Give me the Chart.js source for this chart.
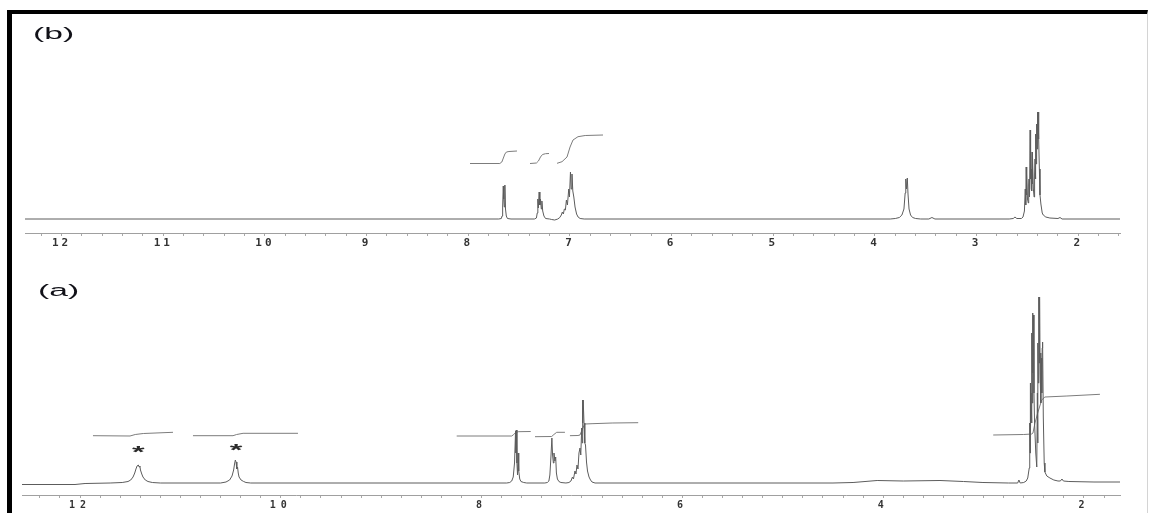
<!DOCTYPE html>
<html>
<head>
<meta charset="utf-8">
<script src="https://cdn.jsdelivr.net/npm/chart.js@4.4.1/dist/chart.umd.min.js"></script>
<style>
  html, body { margin: 0; padding: 0; background: #fff; }
  #page { position: relative; width: 1149px; height: 513px; overflow: hidden; background: #fff; }
  canvas { position: absolute; left: 0; }
  #cb { top: 0; }
  #ca { top: 256px; }
  #frame {
    position: absolute; left: 7px; top: 10px; right: 1px; bottom: -10px;
    border-left: 5px solid #000; border-top: 4px solid #000; border-right: 1px solid #d4d4d4;
    pointer-events: none;
  }
</style>
</head>
<body>
<div id="page">
  <canvas id="cb" width="1149" height="256"></canvas>
  <canvas id="ca" width="1149" height="257"></canvas>
  <div id="frame"></div>
</div>
<script>
// 1H NMR spectra: chemical shift (ppm) against signal intensity (baseline = 0).

// ---- panel (b) ----
const labelsB = [12, 11, 10, 9, 8, 7, 6, 5, 4, 3, 2];
const spectrumB = [
  [12.36, 0], [7.70, 0], [7.675, 0.5], [7.668, 3], [7.662, 12], [7.656, 33], [7.651, 20], [7.646, 12],
  [7.640, 34], [7.634, 10], [7.626, 3], [7.615, 0.5], [7.58, 0],
  [7.35, 0], [7.330, 1], [7.322, 6], [7.316, 20], [7.311, 11], [7.303, 27], [7.296, 14], [7.290, 20],
  [7.282, 10], [7.276, 18], [7.268, 8], [7.256, 3], [7.24, 0.5], [7.20, 0],
  [7.18, -0.5], [7.15, -1], [7.12, 0], [7.10, 1.5], [7.085, 4], [7.075, 7], [7.065, 5], [7.055, 10],
  [7.045, 9], [7.035, 19], [7.025, 14], [7.012, 30], [7.005, 22], [6.995, 47], [6.988, 30], [6.980, 45],
  [6.972, 28], [6.962, 22], [6.950, 12], [6.935, 5], [6.92, 2], [6.90, 0.5], [6.86, 0],
  [3.85, 0], [3.80, 0.5], [3.76, 1.5], [3.735, 4], [3.715, 10], [3.703, 26], [3.697, 40], [3.690, 30],
  [3.682, 41], [3.675, 25], [3.665, 10], [3.650, 4], [3.63, 1.5], [3.60, 0.5], [3.55, 0],
  [3.47, 0], [3.44, 1.5], [3.41, 0],
  [2.68, 0], [2.64, 0.5], [2.623, 2], [2.605, 0.5], [2.56, 0.5], [2.544, 2], [2.530, 8], [2.522, 30],
  [2.517, 14], [2.513, 52], [2.509, 24], [2.506, 45], [2.500, 20], [2.492, 16], [2.488, 34], [2.485, 40],
  [2.480, 22], [2.474, 89], [2.471, 40], [2.468, 70], [2.463, 30], [2.460, 50], [2.457, 28], [2.455, 67],
  [2.452, 35], [2.449, 62], [2.442, 30], [2.435, 22], [2.430, 45], [2.426, 60], [2.422, 40], [2.418, 85],
  [2.414, 55], [2.410, 95], [2.406, 70], [2.402, 107], [2.399, 80], [2.396, 107], [2.390, 80],
  [2.383, 50], [2.377, 24], [2.368, 15], [2.355, 6], [2.345, 4], [2.32, 2],
  [2.28, 1], [2.20, 0.5], [2.18, 1.5], [2.16, 0], [1.59, 0]
];
const integralB1 = [[7.983, 55.5], [7.69, 55.5], [7.67, 57], [7.655, 61], [7.64, 65], [7.625, 67], [7.60, 67.5], [7.521, 68]];
const integralB2 = [[7.393, 55.5], [7.33, 56], [7.31, 58], [7.29, 62], [7.27, 64.5], [7.24, 65.3], [7.206, 65.5]];
const integralB3 = [[7.127, 55.7], [7.078, 57.3], [7.029, 62], [6.999, 72], [6.97, 79], [6.921, 82.3], [6.85, 83.5], [6.675, 84]];

// ---- panel (a) ----
const labelsA = [12, 10, 8, 6, 4, 2];
const spectrumA = [
  [12.578, -1.5], [12.05, -1.5], [11.95, -0.5], [11.70, 0], [11.58, 0.5], [11.522, 1.5], [11.495, 3],
  [11.472, 6], [11.455, 10], [11.443, 14], [11.432, 17], [11.420, 18], [11.410, 16], [11.404, 17],
  [11.398, 13], [11.385, 9], [11.373, 6], [11.35, 3], [11.323, 1.5], [11.28, 0.5], [11.20, 0],
  [10.60, 0], [10.546, 1], [10.51, 3], [10.486, 7], [10.470, 13], [10.461, 19], [10.453, 23], [10.446, 21],
  [10.438, 14], [10.431, 16], [10.424, 10], [10.416, 6], [10.396, 3], [10.37, 1.5], [10.347, 0.5], [10.30, 0],
  [7.75, 0], [7.72, 0.5], [7.700, 2], [7.685, 6], [7.672, 20], [7.662, 52], [7.658, 30], [7.655, 53], [7.648, 20],
  [7.642, 8], [7.636, 30], [7.630, 12], [7.620, 4], [7.608, 1.5], [7.58, 0.5], [7.55, 0],
  [7.37, 0], [7.345, 0.5], [7.330, 2], [7.320, 8], [7.310, 25], [7.300, 45], [7.293, 28], [7.285, 20],
  [7.279, 30], [7.270, 22], [7.262, 26], [7.255, 10], [7.245, 4], [7.230, 1.5], [7.21, 0.5], [7.16, 0],
  [7.13, 0.5], [7.110, 2], [7.095, 6], [7.085, 4], [7.070, 12], [7.060, 9], [7.050, 18], [7.040, 14],
  [7.030, 30], [7.020, 35], [7.012, 28], [7.003, 55], [6.998, 40], [6.995, 83], [6.991, 60], [6.988, 83],
  [6.980, 60], [6.972, 40], [6.965, 38], [6.955, 21], [6.945, 12], [6.930, 6], [6.915, 3], [6.90, 1], [6.87, 0],
  [4.50, 0], [4.30, 0.5], [4.06, 2.5], [3.80, 2], [3.434, 2.5], [3.20, 1.5], [3.006, 0.5], [2.75, 0],
  [2.66, 0], [2.648, 3], [2.635, 0], [2.60, 0.5], [2.575, 2], [2.560, 5], [2.545, 15], [2.540, 60],
  [2.537, 30], [2.535, 100], [2.531, 50], [2.527, 90], [2.522, 60], [2.518, 150], [2.515, 80], [2.512, 170],
  [2.508, 110], [2.503, 168], [2.498, 90], [2.492, 60], [2.480, 30], [2.470, 16], [2.464, 90], [2.461, 40],
  [2.458, 140], [2.455, 100], [2.450, 186], [2.447, 120], [2.442, 186], [2.437, 110], [2.432, 130],
  [2.428, 80], [2.424, 125], [2.420, 90], [2.416, 135], [2.412, 141], [2.405, 66], [2.396, 20], [2.389, 11],
  [2.370, 7], [2.339, 5], [2.30, 3], [2.259, 2], [2.235, 2], [2.219, 4], [2.205, 2], [2.15, 1.5],
  [1.90, 1], [1.641, 1]
];
const integralA1 = [[11.871, 47.3], [11.502, 47], [11.45, 48.5], [11.37, 49.5], [11.074, 50.7]];
const integralA2 = [[10.875, 47.3], [10.476, 47.3], [10.44, 48.5], [10.376, 49.7], [9.829, 49.7]];
const integralA3 = [[8.248, 47], [7.700, 47], [7.68, 48.5], [7.66, 50.5], [7.635, 51.3], [7.511, 51.5]];
const integralA4 = [[7.468, 46.3], [7.302, 46.5], [7.28, 48.5], [7.252, 50.7], [7.170, 50.7]];
const integralA5 = [[7.120, 47.3], [7.040, 47.5], [7.020, 48], [7.000, 53], [6.980, 57.5], [6.970, 59], [6.90, 59.3], [6.70, 60], [6.440, 60.3]];
const integralA6 = [[2.904, 48], [2.60, 48.5], [2.521, 49], [2.508, 50], [2.488, 60], [2.458, 71], [2.421, 83], [2.389, 86], [2.17, 87], [1.841, 88.7]];
// asterisks over the two exchangeable-proton signals: [ppm, height]
const starMarks = [[11.42, 33.3], [10.446, 35.8]];

// Minor ticks every 0.2 ppm inside a range
function minorTicks(lo, hi) {
  const out = [];
  for (let k = Math.ceil(lo * 5); k <= Math.floor(hi * 5); k++) out.push(k / 5);
  return out;
}

const panelPlugin = {
  id: 'panelTag',
  beforeDraw(chart, args, opts) {
    chart.ctx.letterSpacing = opts.tickSpacing || '0px';
  },
  afterDraw(chart, args, opts) {
    const ctx = chart.ctx;
    ctx.save();
    ctx.letterSpacing = '0px';
    ctx.fillStyle = '#111118';
    ctx.font = '16px "Liberation Sans", Arial, sans-serif';
    ctx.textBaseline = 'alphabetic';
    ctx.textAlign = 'left';
    ctx.translate(opts.x, opts.y);
    ctx.scale(2.1, 1);
    ctx.fillText(opts.text, 0, 0);
    ctx.restore();

    const xs = chart.scales.x, ys = chart.scales.y;
    (opts.marks || []).forEach(([p, h]) => {
      ctx.save();
      ctx.letterSpacing = '0px';
      ctx.fillStyle = '#2a2a2a';
      ctx.font = 'bold 18px "Liberation Sans", Arial, sans-serif';
      ctx.textAlign = 'center';
      ctx.textBaseline = 'alphabetic';
      const m = ctx.measureText('*');
      const off = (m.actualBoundingBoxAscent - m.actualBoundingBoxDescent) / 2;
      ctx.translate(xs.getPixelForValue(p), ys.getPixelForValue(h));
      ctx.scale(1.8, 0.9);
      ctx.fillText('*', 0, off);
      ctx.restore();
    });
  }
};

function panel(id, cfg) {
  const sets = [{ data: cfg.spectrum, borderColor: '#5c5c5c' }]
    .concat(cfg.integrals.map(d => ({ data: d, borderColor: '#7c7c7c' })))
    .map(ds => ({
      data: ds.data.map(([x, y]) => ({ x, y })),
      borderColor: ds.borderColor,
      borderWidth: 1,
      pointRadius: 0,
      tension: 0,
      fill: false
    }));
  const ticks = minorTicks(cfg.xmin, cfg.xmax);
  return new Chart(document.getElementById(id), {
    type: 'line',
    data: { datasets: sets },
    options: {
      responsive: false,
      animation: false,
      events: [],
      layout: { padding: cfg.padding },
      plugins: {
        legend: { display: false },
        tooltip: { enabled: false },
        panelTag: { text: cfg.tag, x: cfg.tagX, y: cfg.tagY, marks: cfg.marks, tickSpacing: cfg.tickSpacing }
      },
      scales: {
        x: {
          type: 'linear',
          reverse: true,
          min: cfg.xmin,
          max: cfg.xmax,
          afterBuildTicks: s => { s.ticks = ticks.map(v => ({ value: v })); },
          afterFit: s => { s.height = cfg.axisH; },
          border: { display: true, color: '#a0a0a0', width: 1 },
          grid: { drawOnChartArea: false, drawTicks: true, tickLength: 3, color: '#a8a8a8' },
          ticks: {
            autoSkip: false,
            maxRotation: 0,
            minRotation: 0,
            padding: 1,
            color: '#333',
            font: { family: '"DejaVu Sans Mono", monospace', size: cfg.tickSize, weight: 'bold' },
            callback: v => {
              const r = Math.round(v);
              return (Math.abs(v - r) < 1e-6 && cfg.labels.includes(r)) ? String(r) : '';
            }
          }
        },
        y: { display: false, min: cfg.ymin, max: cfg.ymax }
      }
    },
    plugins: [panelPlugin]
  });
}

panel('cb', {
  spectrum: spectrumB,
  integrals: [integralB1, integralB2, integralB3],
  labels: labelsB,
  xmin: 1.59, xmax: 12.36,
  ymin: -14, ymax: 199,
  padding: { left: 25, right: 29, top: 20, bottom: 3 },
  axisH: 20,
  tickSize: 11,
  tickSpacing: '3px',
  tag: '(b)', tagX: 33, tagY: 38.6,
  marks: []
});

panel('ca', {
  spectrum: spectrumA,
  integrals: [integralA1, integralA2, integralA3, integralA4, integralA5, integralA6],
  labels: labelsA,
  xmin: 1.641, xmax: 12.578,
  ymin: -12, ymax: 217,
  padding: { left: 22, right: 29, top: 10, bottom: 2 },
  axisH: 16,
  tickSize: 10,
  tickSpacing: '5px',
  tag: '(a)', tagX: 38, tagY: 39.6,
  marks: starMarks
});
</script>
</body>
</html>
